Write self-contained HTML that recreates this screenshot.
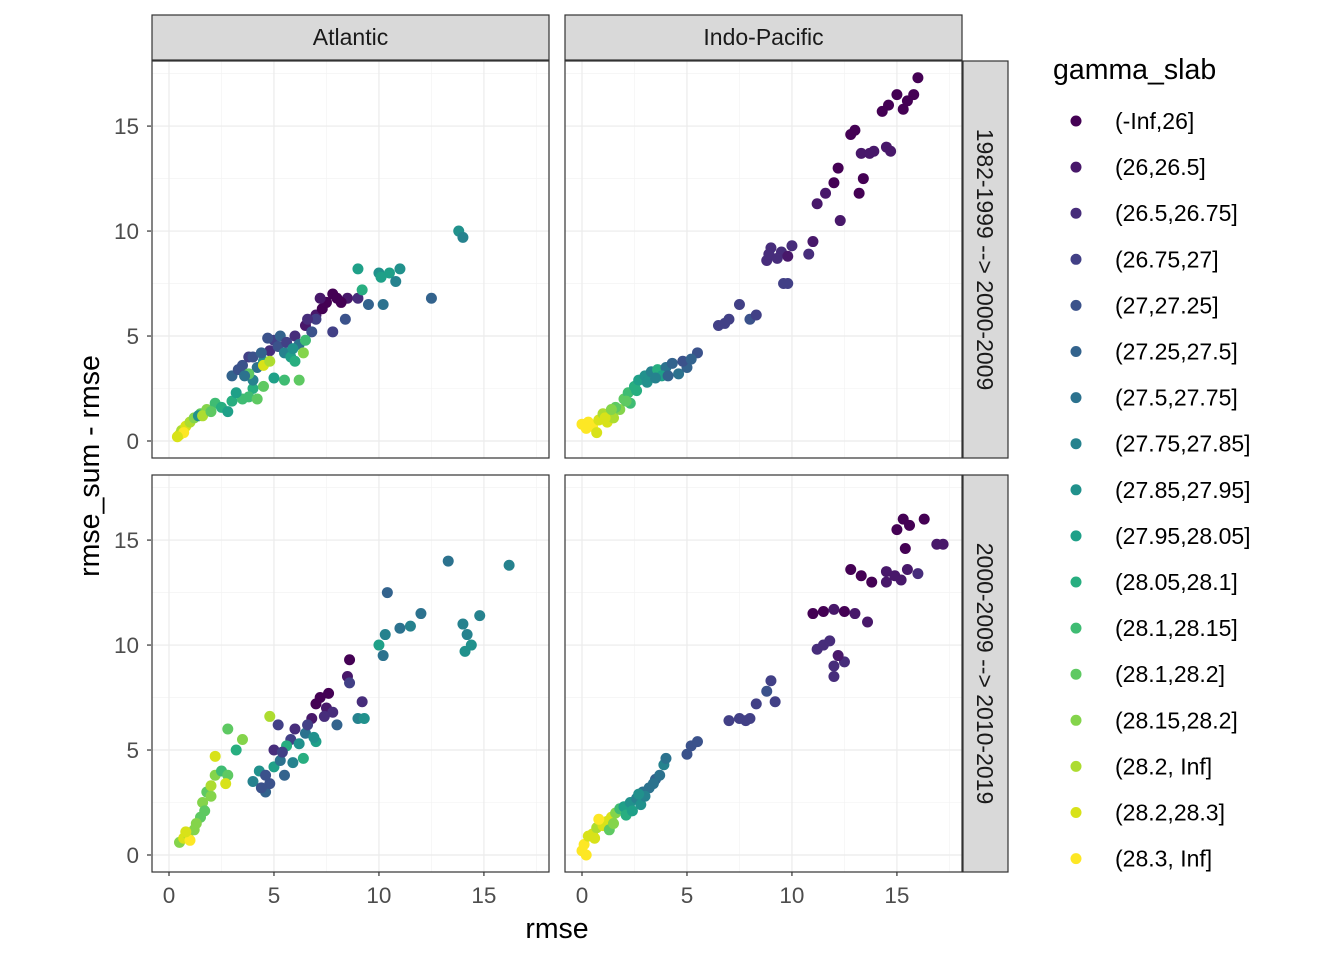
<!DOCTYPE html>
<html><head><meta charset="utf-8"><style>
body{margin:0;background:#fff;}
svg{display:block;font-family:"Liberation Sans",sans-serif;}
</style></head><body>
<svg id="chart" width="1344" height="960" xmlns="http://www.w3.org/2000/svg"></svg>
<script>
const colorsV=["#440154","#48186A","#472D7B","#424086","#3B528B","#33638D","#2C728E","#26828E","#21918C","#1FA088","#28AE80","#3FBC73","#5EC962","#84D44B","#ADDC30","#D8E219","#FDE725"];
const legendLabels=["(-Inf,26]","(26,26.5]","(26.5,26.75]","(26.75,27]","(27,27.25]","(27.25,27.5]","(27.5,27.75]","(27.75,27.85]","(27.85,27.95]","(27.95,28.05]","(28.05,28.1]","(28.1,28.15]","(28.1,28.2]","(28.15,28.2]","(28.2, Inf]","(28.2,28.3]","(28.3, Inf]"];
const colLabels=["Atlantic","Indo-Pacific"];
const rowLabels=["1982-1999 --> 2000-2009","2000-2009 --> 2010-2019"];
const xTicks=[0,5,10,15];
const yTicks=[0,5,10,15];
// [rmse, rmse_sum - rmse, colour level]
const atlTop=[[0.5,0.3,15],[0.6,0.5,14],[0.8,0.7,15],[1,0.9,14],[1.2,1.1,13],[0.7,0.4,16],[1.5,1.3,12],[1.8,1.5,13],[2.2,1.8,11],[2.5,1.6,10],[3,1.9,10],[3.5,2,11],[4,2.5,10],[4.5,2.6,12],[5.5,2.9,11],[3.2,2.3,9],[2.8,1.4,9],[1.4,1.2,8],[0.4,0.2,15],[1.6,1.2,14],[2,1.4,12],[3.8,2.1,11],[4.2,2,12],[6.2,2.9,12],
[3,3.1,5],[3.5,3.6,4],[3.8,4,3],[4.2,3.5,6],[4.5,3.8,8],[4.8,4.3,2],[5,4.8,3],[5.2,4.5,4],[5.5,4.2,7],[5.8,4,9],[6,5,2],[6.2,4.6,6],[6.5,5.5,1],[6.8,5.2,4],[7,6,1],[7.3,6.3,0],[7.5,6.6,0],[7.8,7,0],[8,6.8,0],[4.5,3.6,15],[4.8,3.8,14],[6.5,4.8,11],[6.4,4.2,13],[5,3,9],[4,2.9,7],[3.8,3.2,12],[6,3.8,10],[5.3,5,5],[4,4,4],[7,5.8,3],[3.3,3.4,4],[4.4,4.2,5],[5.6,4.7,3],[6.6,5.8,2],[7.2,6.8,1],[5.9,4.4,8],[4.7,4.9,4],[3.6,3.1,6],
[8.5,6.8,1],[9,6.8,2],[7.8,5.2,3],[8.4,5.8,4],[9.5,6.5,5],[10.2,6.5,6],[9,8.2,9],[9.2,7.2,10],[10,8,8],[10.5,8,9],[11,8.2,8],[10.8,7.6,7],[12.5,6.8,5],[13.8,10,8],[14,9.7,7],[10.1,7.8,9],[8.2,6.6,0]];
const atlBot=[[0.5,0.6,13],[0.7,0.8,15],[0.9,1,14],[1,0.7,16],[1.2,1.2,13],[1.5,1.8,12],[1.6,2.5,13],[1.8,3,12],[2,3.3,14],[2.2,3.8,13],[2.2,4.7,15],[2.5,4,11],[2.8,6,12],[3.5,5.5,13],[3.2,5,10],[2.8,3.8,12],[4.8,6.6,14],[2.7,3.4,15],[1.3,1.5,13],[1.7,2.1,12],[2,2.8,13],[0.8,1.1,15],
[4,3.5,7],[4.3,4,8],[4.6,3,5],[4.8,3.4,4],[5,4.2,9],[5.3,4.5,6],[5.5,3.8,5],[5.8,5.5,3],[6,6,2],[6.2,5.3,8],[6.5,5.8,6],[6.8,6.5,1],[7,7.2,0],[7.2,7.5,0],[7.5,7,1],[7.8,6.8,2],[8,6.2,5],[7,5.4,9],[6.4,4.6,10],[5.6,5.2,10],[5,5,2],[4.6,3.8,4],[5.2,6.2,3],[5.4,4.9,3],[6.6,6.2,3],[7.4,6.6,2],[4.4,3.2,4],[5.9,4.4,7],[6.9,5.6,8],[7.6,7.7,0],
[8.5,8.5,1],[8.6,9.3,0],[9.2,7.3,2],[9,6.5,7],[9.3,6.5,8],[8.6,8.2,3],[10,10,9],[10.3,10.5,7],[10.4,12.5,5],[10.2,9.5,6],[11,10.8,6],[11.5,10.9,7],[12,11.5,6],[13.3,14,6],[14,11,7],[14.2,10.5,7],[14.4,10,8],[14.8,11.4,7],[16.2,13.8,7],[14.1,9.7,8]];
const indTop=[[0,0.8,16],[0.3,0.9,16],[0.5,0.7,16],[0.8,1,15],[1,1.3,14],[1.2,0.9,15],[1.5,1.1,14],[0.7,0.4,15],[1.8,1.5,13],[2,2,12],[2.2,2.3,11],[2.5,2.6,10],[2.7,2.9,9],[3,3.1,8],[3.3,3.3,7],[3.6,3.4,10],[4,3.5,6],[4.3,3.7,5],[4.6,3.2,6],[5,3.5,5],[5.5,4.2,4],[3.8,3.1,9],[2.3,1.8,11],[1.6,1.6,12],[0.2,0.6,16],[1.1,1.1,15],[1.4,1.5,13],[2.1,1.9,12],[2.6,2.4,10],[3.1,2.8,8],[3.5,3,7],[4.1,3.1,5],[4.8,3.8,4],[5.2,3.9,5],
[6.5,5.5,3],[7,5.8,3],[7.5,6.5,3],[8,5.8,4],[8.3,6,3],[8.8,8.6,2],[9,9.2,2],[9.5,9,2],[9.8,8.8,1],[10,9.3,2],[9.6,7.5,3],[9.8,7.5,3],[10.8,8.9,2],[11,9.5,1],[11.2,11.3,1],[11.6,11.8,1],[12,12.3,0],[12.2,13,0],[12.3,10.5,1],[12.8,14.6,0],[13,14.8,0],[13.3,13.7,1],[13.7,13.7,1],[13.9,13.8,1],[13.4,12.5,0],[13.2,11.8,0],[14.5,14,1],[14.6,16,0],[15,16.5,0],[15.3,15.8,0],[15.8,16.5,0],[16,17.3,0],[15.5,16.2,0],[14.7,13.8,1],[14.3,15.7,0],[8.9,8.9,2],[9.3,8.7,2],[6.8,5.6,3]];
const indBot=[[0,0.2,16],[0.1,0.5,16],[0.3,0.9,15],[0.5,1,15],[0.7,1.3,14],[1,1.4,15],[1.2,1.6,15],[1.4,1.8,15],[0.8,1.7,16],[1.6,2,13],[1.8,2.2,11],[2,2.3,9],[2.3,2.5,8],[2.6,2.7,7],[2.9,3,6],[3.2,3.2,6],[3.5,3.6,5],[3.7,3.8,6],[3.9,4.3,7],[4,4.6,6],[2.1,1.9,10],[2.8,2.4,8],[1.3,1.2,12],[0.2,0,16],[0.6,0.8,15],[1.5,1.5,13],[2.4,2.1,9],[3,2.8,7],[3.4,3.4,6],[2.7,2.9,8],
[5,4.8,4],[5.2,5.2,4],[5.5,5.4,4],[7,6.4,3],[7.5,6.5,3],[8,6.5,3],[8.3,7.2,3],[8.8,7.8,4],[9,8.3,3],[9.2,7.3,3],[7.8,6.4,3],[11.2,9.8,2],[11.5,10,2],[11.8,10.2,2],[12,9,2],[12,8.5,2],[12.5,9.2,2],[12.2,9.5,1],[11,11.5,0],[11.5,11.6,0],[12,11.7,1],[12.5,11.6,0],[13,11.5,1],[13.6,11.1,1],[12.8,13.6,0],[13.3,13.3,0],[13.8,13,0],[14.5,13,1],[14.9,13.3,1],[15.5,13.6,1],[16,13.4,2],[15,15.5,0],[15.3,16,0],[15.6,15.7,0],[16.3,16,0],[16.9,14.8,1],[15.4,14.6,0],[14.5,13.5,1],[15.2,13.1,1],[17.2,14.8,1]];
const panelData=[[atlTop,indTop],[atlBot,indBot]];

const NS="http://www.w3.org/2000/svg";
const svg=document.getElementById("chart");
function mk(tag,attrs,parent,text){const e=document.createElementNS(NS,tag);for(const k in attrs)e.setAttribute(k,attrs[k]);if(text!==undefined)e.textContent=text;(parent||svg).appendChild(e);return e;}
const colX=[152,565], rowY=[61,475], PW=397, PH=397;
const xMin=-0.81, xMax=18.1, yMin=-0.81, yMax=18.1;
function sx(c,v){return colX[c]+(v-xMin)/(xMax-xMin)*PW;}
function sy(r,v){return rowY[r]+PH-(v-yMin)/(yMax-yMin)*PH;}

for(let r=0;r<2;r++)for(let c=0;c<2;c++){
  const g=mk("g",{});
  
  
  mk("rect",{x:colX[c],y:rowY[r],width:PW,height:PH,fill:"#fff"},g);
  for(let v=2.5;v<18;v+=5){
    mk("line",{x1:sx(c,v),x2:sx(c,v),y1:rowY[r],y2:rowY[r]+PH,stroke:"#F2F2F2","stroke-width":0.6},g);
    mk("line",{y1:sy(r,v),y2:sy(r,v),x1:colX[c],x2:colX[c]+PW,stroke:"#F2F2F2","stroke-width":0.6},g);
  }
  xTicks.forEach(v=>mk("line",{x1:sx(c,v),x2:sx(c,v),y1:rowY[r],y2:rowY[r]+PH,stroke:"#EBEBEB","stroke-width":1.2},g));
  yTicks.forEach(v=>mk("line",{y1:sy(r,v),y2:sy(r,v),x1:colX[c],x2:colX[c]+PW,stroke:"#EBEBEB","stroke-width":1.2},g));
  panelData[r][c].forEach(p=>{
    const pt=mk("circle",{cx:sx(c,p[0]),cy:sy(r,p[1]),r:5.5,fill:colorsV[p[2]]},g);
    
    
  });
  mk("rect",{x:colX[c],y:rowY[r],width:PW,height:PH,fill:"none",stroke:"#333","stroke-width":1.2},g);
}
colLabels.forEach((l,c)=>{
  const s=mk("rect",{x:colX[c],y:15,width:PW,height:45,fill:"#D9D9D9",stroke:"#333","stroke-width":1.2});
  
  
  mk("text",{x:colX[c]+PW/2,y:45,"text-anchor":"middle","font-size":"23",fill:"#1A1A1A"},null,l);
});
rowLabels.forEach((l,r)=>{
  const s=mk("rect",{x:963,y:rowY[r],width:45,height:PH,fill:"#D9D9D9",stroke:"#333","stroke-width":1.2});
  
  
  const cy=rowY[r]+PH/2;
  mk("text",{x:977,y:cy,"text-anchor":"middle","font-size":"23",fill:"#1A1A1A",transform:`rotate(90 977 ${cy})`},null,l);
});
for(let c=0;c<2;c++)xTicks.forEach(v=>{
  mk("line",{x1:sx(c,v),x2:sx(c,v),y1:872,y2:876,stroke:"#333","stroke-width":1.2});
  const t=mk("text",{x:sx(c,v),y:903,"text-anchor":"middle","font-size":"22.5",fill:"#4D4D4D"},null,String(v));
  
  
});
for(let r=0;r<2;r++)yTicks.forEach(v=>{
  mk("line",{x1:147,x2:151,y1:sy(r,v),y2:sy(r,v),stroke:"#333","stroke-width":1.2});
  const t=mk("text",{x:139,y:sy(r,v)+8,"text-anchor":"end","font-size":"22.5",fill:"#4D4D4D"},null,String(v));
  
  
});
const xt=mk("text",{x:557,y:938,"text-anchor":"middle","font-size":"28.5",fill:"#000"},null,"rmse");


const yt=mk("text",{x:99,y:466,"text-anchor":"middle","font-size":"28.5",fill:"#000",transform:"rotate(-90 99 466)"},null,"rmse_sum - rmse");


const lt=mk("text",{x:1053,y:79,"font-size":"28.5",fill:"#000"},null,"gamma_slab");


legendLabels.forEach((l,i)=>{
  const y=121+i*46.1;
  const g=mk("g",{});
  
  
  mk("circle",{cx:1076,cy:y,r:5.5,fill:colorsV[i]},g);
  mk("text",{x:1115,y:y+8,"font-size":"23",fill:"#000"},g,l);
});
</script>
</body></html>
